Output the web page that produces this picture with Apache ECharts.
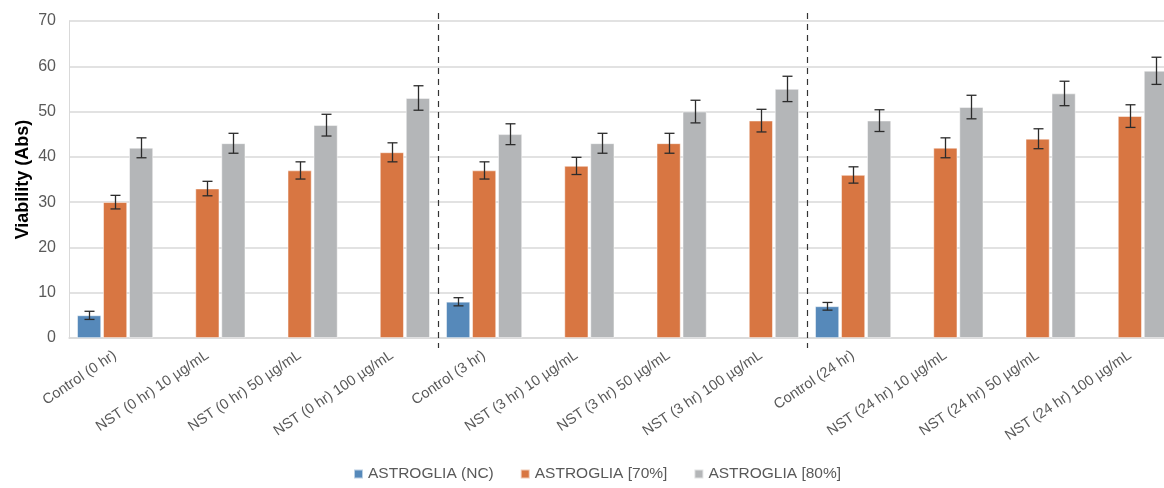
<!DOCTYPE html>
<html><head><meta charset="utf-8">
<script src="https://cdn.jsdelivr.net/npm/echarts@6/dist/echarts.min.js"></script>
<style>html,body{margin:0;padding:0;background:#fff;overflow:hidden}#c{width:1176px;height:488px}</style>
</head><body><div id="c"></div>
<script>
const categories = ['Control (0 hr)','NST (0 hr) 10 µg/mL','NST (0 hr) 50 µg/mL','NST (0 hr) 100 µg/mL',
  'Control (3 hr)','NST (3 hr) 10 µg/mL','NST (3 hr) 50 µg/mL','NST (3 hr) 100 µg/mL',
  'Control (24 hr)','NST (24 hr) 10 µg/mL','NST (24 hr) 50 µg/mL','NST (24 hr) 100 µg/mL'];
const seriesNames = ['ASTROGLIA (NC)','ASTROGLIA [70%]','ASTROGLIA [80%]'];
const ncValues  = [5, null, null, null, 8, null, null, null, 7, null, null, null];
const ncErr     = [0.9, null, null, null, 0.9, null, null, null, 0.85, null, null, null];
const p70Values = [30, 33, 37, 41, 37, 38, 43, 48, 36, 42, 44, 49];
const p70Err    = [1.5, 1.6, 1.9, 2.1, 1.9, 1.9, 2.2, 2.5, 1.8, 2.2, 2.2, 2.5];
const p80Values = [42, 43, 47, 53, 45, 43, 50, 55, 48, 51, 54, 59];
const p80Err    = [2.2, 2.2, 2.4, 2.7, 2.3, 2.2, 2.5, 2.8, 2.4, 2.6, 2.7, 3.0];
const separatorsAfter = [3, 7];
const yTicks = [0, 10, 20, 30, 40, 50, 60, 70];

const colors = ['#5689BA', '#D87642', '#B4B6B8'];
const BAR_W = 24, BAR_GAP = 2;
const allValues = [ncValues, p70Values, p80Values];
const allErr = [ncErr, p70Err, p80Err];
const FONT = 'Liberation Sans, Arial, sans-serif';

function errSeries(k) {
  const data = [];
  allValues[k].forEach((v, i) => { if (v != null) data.push([i, v, allErr[k][i]]); });
  return {
    type: 'custom', silent: true, z: 10, data: data,
    renderItem: function (params, api) {
      const i = api.value(0), v = api.value(1), e = api.value(2);
      const off = (k - 1) * (BAR_W + BAR_GAP);
      const top = api.coord([i, v + e]);
      const bot = api.coord([i, v - e]);
      const x = Math.round(top[0] + off) + 0.5, h = 5;
      const st = { stroke: '#2b2b2b', lineWidth: 1.3 };
      return { type: 'group', children: [
        { type: 'line', shape: { x1: x, y1: top[1], x2: x, y2: bot[1] }, style: st },
        { type: 'line', shape: { x1: x - h, y1: top[1], x2: x + h, y2: top[1] }, style: st },
        { type: 'line', shape: { x1: x - h, y1: bot[1], x2: x + h, y2: bot[1] }, style: st }
      ]};
    }
  };
}

const chart = echarts.init(document.getElementById('c'), null, { renderer: 'canvas' });
chart.setOption({
  animation: false,
  backgroundColor: '#fff',
  grid: { left: 69, top: 21, bottom: 150, right: 0, containLabel: false },
  legend: {
    bottom: 1, left: 348, itemWidth: 9, itemHeight: 9, itemGap: 26,
    icon: 'rect',
    textStyle: { color: '#595959', fontSize: 15.5, fontFamily: FONT },
    data: seriesNames
  },
  xAxis: {
    type: 'category', data: categories,
    axisLine: { show: true, lineStyle: { color: '#d9d9d9', width: 1.5 } },
    axisTick: { show: false },
    axisLabel: { interval: 0, rotate: 34, color: '#595959', fontSize: 14.5, margin: 16,
      fontFamily: FONT }
  },
  yAxis: {
    type: 'value', min: yTicks[0], max: yTicks[yTicks.length - 1], interval: 10,
    name: 'Viability (Abs)', nameLocation: 'middle', nameGap: 37, nameMoveOverlap: false,
    nameTextStyle: { fontSize: 18, fontWeight: 'bold', color: '#000', fontFamily: FONT },
    axisLine: { show: true, lineStyle: { color: '#d9d9d9' } },
    axisTick: { show: false },
    axisLabel: { color: '#595959', fontSize: 16, margin: 13, fontFamily: FONT },
    splitLine: { lineStyle: { color: '#d9d9d9', width: 1.5 } }
  },
  series: [
    ...seriesNames.map((n, k) => ({
      name: n, type: 'bar', data: allValues[k].map(v => v == null ? '-' : v),
      barWidth: BAR_W, barGap: (BAR_GAP / BAR_W * 100) + '%',
      itemStyle: { color: colors[k], borderColor: 'rgba(255,255,255,0.6)', borderWidth: 0.8 }
    })),
    errSeries(0), errSeries(1), errSeries(2),
    {
      type: 'custom', silent: true, z: 11, clip: false,
      data: separatorsAfter.map(i => [i, 0]),
      renderItem: function (params, api) {
        const i = api.value(0);
        const bw = api.size([1, 0])[0];
        const p0 = api.coord([i, yTicks[0]]);
        const p1 = api.coord([i, yTicks[yTicks.length - 1]]);
        const x = Math.round(p0[0] + bw / 2) + 0.5;
        return { type: 'line', shape: { x1: x, y1: p1[1] - 8, x2: x, y2: p0[1] + 10 },
          style: { stroke: '#333', lineWidth: 1.2, lineDash: [6, 5] } };
      }
    }
  ]
});
</script></body></html>
